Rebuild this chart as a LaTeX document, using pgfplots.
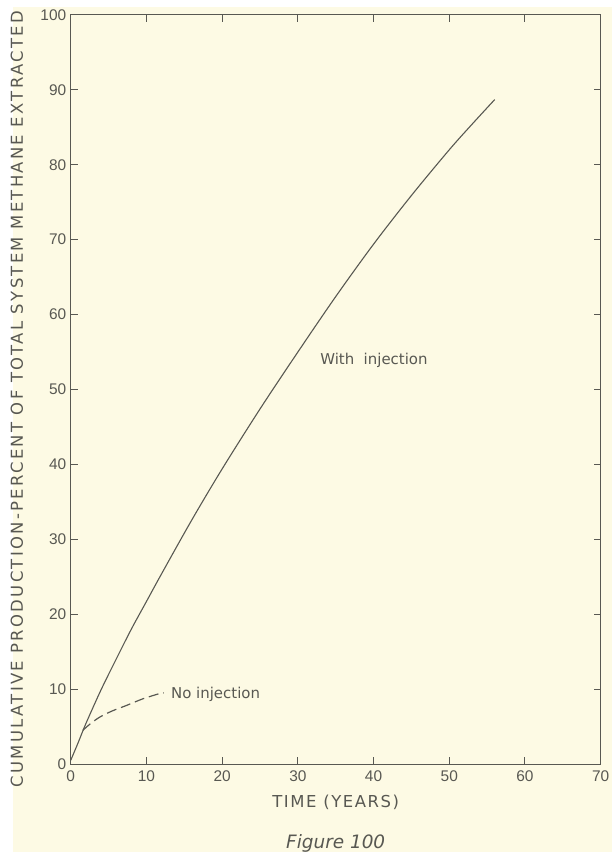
\documentclass[border=0pt]{standalone}
\usepackage{fontspec}
\setmainfont{Liberation Sans}
\newfontfamily\lbl[LetterSpace=9.5]{DejaVu Sans}
\newfontfamily\ylbl[LetterSpace=14]{DejaVu Sans}
\newfontfamily\note{DejaVu Sans}
\usepackage{pgfplots}
\pgfplotsset{compat=1.18}
\definecolor{paper}{RGB}{253,250,228}
\definecolor{ink}{RGB}{88,88,82}

\begin{document}
\begin{tikzpicture}
% page: 614 x 856, axis box at (71,89) from the lower left
\fill[white] (-71pt,-89pt) rectangle (543pt,767pt);
\fill[paper] (-58pt,-88pt) rectangle (543pt,760pt);
\begin{axis}[
  width=532pt, height=752pt, scale only axis,
  xmin=0, xmax=70, ymin=0, ymax=100,
  xtick={0,10,...,70}, ytick={0,10,...,100},
  tick align=inside, major tick length=7pt,
  axis line style={ink, line width=1.1pt},
  tick style={ink, line width=1pt},
  ticklabel style={ink, font=\fontsize{15.5}{17}\selectfont},
  /pgf/number format/assume math mode=true,
  xticklabel style={yshift=-3pt},
  yticklabel style={xshift=-1pt},
  xlabel={TIME (YEARS)},
  ylabel={CUMULATIVE PRODUCTION-PERCENT OF TOTAL SYSTEM METHANE EXTRACTED},
  xlabel style={ink, font=\lbl\fontsize{16.5}{18}\selectfont,
    at={(axis description cs:0.5,-0.0505)}, anchor=center},
  ylabel style={ink, font=\ylbl\fontsize{16.5}{18}\selectfont,
    at={(axis description cs:-0.1015,0.487)}, anchor=center, rotate=0},
]
% with injection
\addplot[ink, line width=1.1pt, smooth, tension=0.5] coordinates {
  (0,0.5) (1,2.9) (2,5.4) (4,9.9) (6,14.0) (8,18.0) (10,21.7) (12,25.4)
  (16,32.6) (20,39.4) (25,47.4) (30,55.0) (35,62.4) (40,69.4) (45,75.9)
  (50,82.0) (53,85.4) (56,88.7)
};
% no injection
\addplot[ink, line width=1.2pt, dash pattern=on 10pt off 5pt, smooth, tension=0.5] coordinates {
  (1.6,4.5) (2.5,5.3) (3.8,6.25) (5.5,7.1) (7.3,7.8) (9.5,8.7) (11.7,9.4) (12.3,9.5)
};
\node[ink, anchor=west, font=\note\fontsize{15}{17}\selectfont] at (axis cs:12.8,9.35) {No injection};
\node[ink, anchor=west, font=\note\fontsize{15}{17}\selectfont] at (axis cs:32.5,53.9) {With\ \ injection};
\end{axis}
\node[ink, font=\note\fontsize{18.5}{20}\selectfont\itshape] at (266pt,-80pt) {Figure 100};
\end{tikzpicture}
\end{document}
